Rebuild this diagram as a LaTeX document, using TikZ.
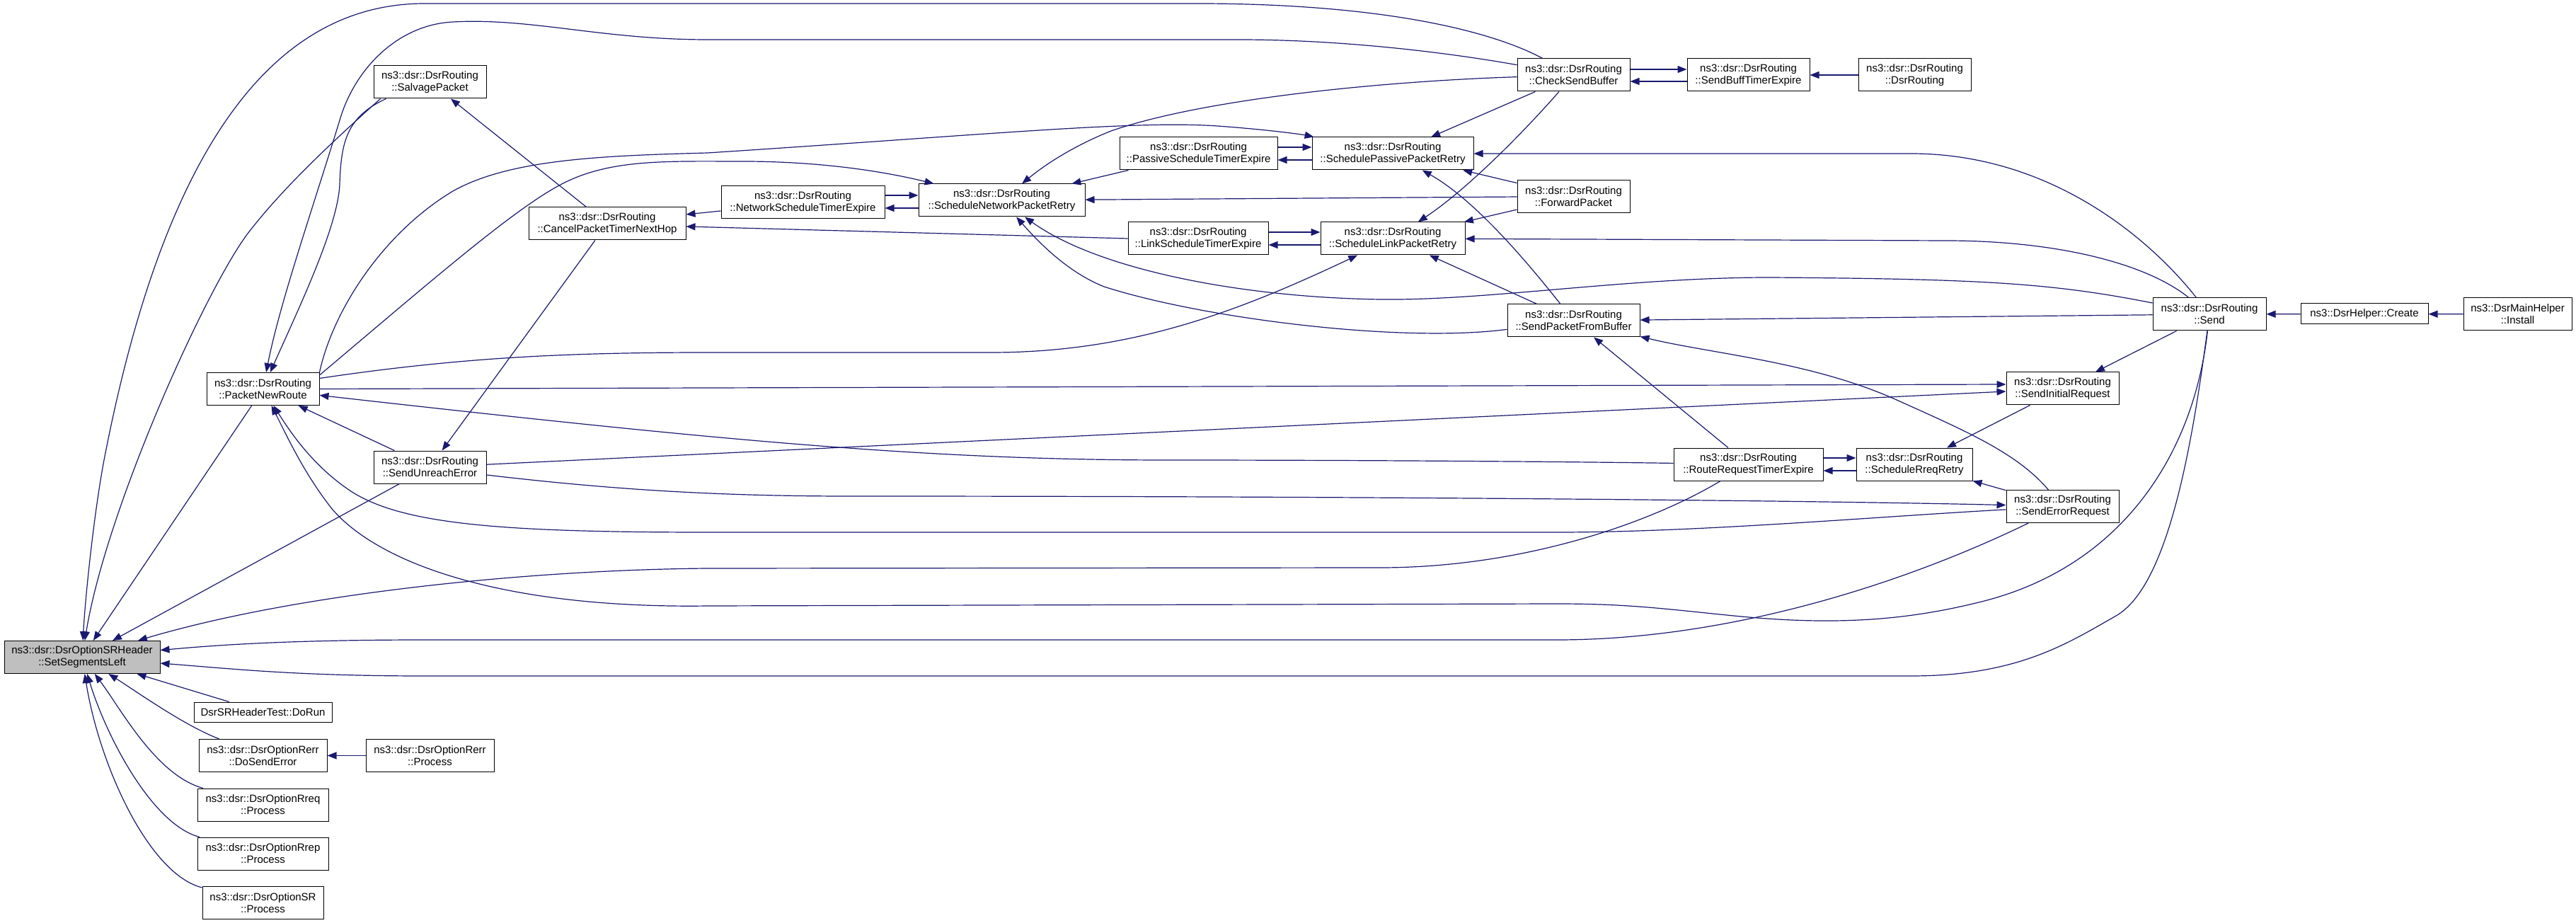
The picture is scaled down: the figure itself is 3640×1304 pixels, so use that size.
\documentclass[tikz,border=0pt]{standalone}
\usepackage{fontspec}
\setmainfont{Liberation Sans}
\usetikzlibrary{arrows.meta}
\definecolor{dxblue}{HTML}{191970}
\definecolor{dxgray}{HTML}{BFBFBF}
\newcommand{\fnfont}{\fontsize{7.5}{8.5}\selectfont}
\begin{document}
\begin{tikzpicture}[x=0.5pt, y=-0.5pt,
  fn/.style={draw=black, fill=white, line width=0.5pt, inner sep=0pt, minimum height=23pt, align=center, font=\fnfont},
  call/.style={draw=dxblue, line width=0.6pt, -{Triangle[length=6.5pt,width=5pt]}}]
\useasboundingbox (0,0) rectangle (3640,1304);
%% functions
\node[fn, fill=dxgray, minimum width=110pt] (ssl) at (116,928.5) {ns3::dsr::DsrOptionSRHeader\\::SetSegmentsLeft};
\node[fn, minimum width=79.5pt] (pnr) at (371.5,549.5) {ns3::dsr::DsrRouting\\::PacketNewRoute};
\node[fn, minimum width=79.5pt] (sp) at (607.5,116) {ns3::dsr::DsrRouting\\::SalvagePacket};
\node[fn, minimum width=111pt] (cpt) at (858,316) {ns3::dsr::DsrRouting\\::CancelPacketTimerNextHop};
\node[fn, minimum width=79.5pt] (sue) at (607.5,660) {ns3::dsr::DsrRouting\\::SendUnreachError};
\node[fn, minimum width=97.5pt, minimum height=14pt] (dorun) at (371.5,1006) {DsrSRHeaderTest::DoRun};
\node[fn, minimum width=90.5pt] (dse) at (371.5,1067.5) {ns3::dsr::DsrOptionRerr\\::DoSendError};
\node[fn, minimum width=90.5pt] (rerrp) at (607.5,1067.5) {ns3::dsr::DsrOptionRerr\\::Process};
\node[fn, minimum width=92.5pt] (rreqp) at (371.5,1137) {ns3::dsr::DsrOptionRreq\\::Process};
\node[fn, minimum width=92.5pt] (rrepp) at (371.5,1206) {ns3::dsr::DsrOptionRrep\\::Process};
\node[fn, minimum width=85.5pt] (srp) at (371.5,1275.5) {ns3::dsr::DsrOptionSR\\::Process};
\node[fn, minimum width=115.5pt] (nste) at (1134.5,286) {ns3::dsr::DsrRouting\\::NetworkScheduleTimerExpire};
\node[fn, minimum width=117.5pt] (snpr) at (1415.5,283) {ns3::dsr::DsrRouting\\::ScheduleNetworkPacketRetry};
\node[fn, minimum width=111.5pt] (pste) at (1693.5,217) {ns3::dsr::DsrRouting\\::PassiveScheduleTimerExpire};
\node[fn, minimum width=99pt] (lste) at (1693,337) {ns3::dsr::DsrRouting\\::LinkScheduleTimerExpire};
\node[fn, minimum width=114pt] (sppr) at (1968,217) {ns3::dsr::DsrRouting\\::SchedulePassivePacketRetry};
\node[fn, minimum width=102pt] (slpr) at (1968,337) {ns3::dsr::DsrRouting\\::ScheduleLinkPacketRetry};
\node[fn, minimum width=79.5pt] (csb) at (2223.5,106) {ns3::dsr::DsrRouting\\::CheckSendBuffer};
\node[fn, minimum width=79.5pt] (fp) at (2223.5,277.5) {ns3::dsr::DsrRouting\\::ForwardPacket};
\node[fn, minimum width=93.5pt] (spfb) at (2223.5,453) {ns3::dsr::DsrRouting\\::SendPacketFromBuffer};
\node[fn, minimum width=105.5pt] (rrte) at (2470.5,656) {ns3::dsr::DsrRouting\\::RouteRequestTimerExpire};
\node[fn, minimum width=86.5pt] (sbte) at (2470.5,106) {ns3::dsr::DsrRouting\\::SendBuffTimerExpire};
\node[fn, minimum width=79.5pt] (dr) at (2705.5,106) {ns3::dsr::DsrRouting\\::DsrRouting};
\node[fn, minimum width=82pt] (srr) at (2705,656) {ns3::dsr::DsrRouting\\::ScheduleRreqRetry};
\node[fn, minimum width=79.5pt] (sir) at (2914.5,549) {ns3::dsr::DsrRouting\\::SendInitialRequest};
\node[fn, minimum width=79.5pt] (ser) at (2914.5,715.5) {ns3::dsr::DsrRouting\\::SendErrorRequest};
\node[fn, minimum width=80pt] (send) at (3122,444) {ns3::dsr::DsrRouting\\::Send};
\node[fn, minimum width=90pt, minimum height=14.5pt] (create) at (3341,443.5) {ns3::DsrHelper::Create};
\node[fn, minimum width=76.5pt] (install) at (3557.5,444) {ns3::DsrMainHelper\\::Install};
%% calls into SetSegmentsLeft
\draw[call] (pnr) -- (ssl);
\draw[call] ([xshift=-35pt]sp.south) .. controls (470,200) and (400,265) .. (350,330) .. controls (290,410) and (150,720) .. (ssl);
\draw[call] (csb) .. controls (2110,45) and (1960,6) .. (1700,5) -- (600,5) .. controls (380,5) and (230,220) .. (147,650) .. controls (132,730) and (120,850) .. (ssl);
\draw[call] (sue) -- (ssl);
\draw[call] (rrte) .. controls (2330,740) and (2150,802) .. (1950,802) -- (1000,803) .. controls (750,805) and (420,838) .. (ssl);
\draw[call] (ser) .. controls (2700,820) and (2450,904) .. (2200,904) -- (600,904) .. controls (400,904) and (300,912) .. (ssl);
\draw[call] (send) .. controls (3095,650) and (3060,830) .. (2990,870) .. controls (2920,910) and (2850,955) .. (2700,955) -- (600,955) .. controls (420,955) and (330,945) .. (ssl);
\draw[call] (dorun) -- (ssl);
\draw[call] (dse) .. controls (260,1025) and (190,975) .. (ssl);
\draw[call] (rreqp) .. controls (220,1095) and (170,1000) .. (ssl);
\draw[call] (rrepp) .. controls (215,1165) and (150,1040) .. (ssl);
\draw[call] (srp) .. controls (210,1235) and (140,1080) .. (ssl);
\draw[call] (rerrp) -- (dse);
%% calls into PacketNewRoute
\draw[call] ([xshift=-31pt]sp.south) .. controls (490,165) and (482,200) .. (480,260) .. controls (478,320) and (420,440) .. (pnr);
\draw[call] (csb) .. controls (2050,75) and (1900,56) .. (1750,56) -- (1000,56) .. controls (850,56) and (750,25) .. (640,31) .. controls (560,35) and (500,100) .. (480,170) .. controls (440,300) and (395,430) .. (pnr);
\draw[call] (sue) -- (pnr);
\draw[call] (ser) .. controls (2650,730) and (2400,752) .. (2200,752) -- (1000,752) .. controls (700,752) and (560,740) .. (490,690) .. controls (440,655) and (410,610) .. (pnr);
\draw[call] (send) .. controls (3100,640) and (3000,800) .. (2800,850) .. controls (2700,875) and (2600,885) .. (2450,870) .. controls (2350,860) and (2300,853) .. (2200,853) -- (1000,856) .. controls (720,860) and (540,800) .. (470,720) .. controls (430,670) and (405,615) .. (pnr);
\draw[call] (rrte) .. controls (2200,652) and (1900,650) .. (1650,650) .. controls (1300,650) and (1000,620) .. (pnr);
%% CancelPacketTimerNextHop
\draw[call] (cpt) -- (sp);
\draw[call] (cpt) -- (sue);
\draw[call] ([yshift=-6pt]nste.west) -- ([yshift=6.5pt]cpt.east);
\draw[call] (lste.west) -- ([yshift=-2pt]cpt.east);
%% ScheduleNetworkPacketRetry
\draw[call] ([yshift=5pt]nste.east) -- ([yshift=3.5pt]snpr.west);
\draw[call] ([yshift=-5.5pt]snpr.west) -- ([yshift=-4pt]nste.east);
\draw[call] ([yshift=-2pt]pnr.north east) .. controls (600,405) and (720,300) .. (790,262) .. controls (860,224) and (940,228) .. (1050,228) .. controls (1150,228) and (1240,240) .. (snpr);
\draw[call] (csb) .. controls (1950,115) and (1700,140) .. (1570,185) .. controls (1520,205) and (1480,230) .. (snpr);
\draw[call] (pste) -- (snpr);
\draw[call] (fp) -- (snpr);
\draw[call] (spfb) .. controls (1980,485) and (1700,450) .. (1560,405) .. controls (1510,385) and (1470,345) .. (snpr);
\draw[call] (send) .. controls (2900,400) and (2800,394) .. (2500,392) .. controls (2300,392) and (2100,425) .. (1950,423) .. controls (1750,420) and (1550,380) .. (snpr);
%% SchedulePassivePacketRetry
\draw[call] ([yshift=4.5pt]pste.east) -- ([yshift=4.5pt]sppr.west);
\draw[call] ([yshift=-4.5pt]sppr.west) -- ([yshift=-4.5pt]pste.east);
\draw[call] (pnr.north east) .. controls (470,440) and (540,330) .. (640,270) .. controls (720,225) and (850,220) .. (1000,216) .. controls (1400,190) and (1600,170) .. (1720,178) .. controls (1790,183) and (1840,190) .. (sppr);
\draw[call] (csb) -- (sppr);
\draw[call] (fp) -- (sppr);
\draw[call] (spfb) .. controls (2150,360) and (2080,280) .. (sppr);
\draw[call] (send) .. controls (3040,340) and (2900,217) .. (2700,217) -- (sppr);
%% ScheduleLinkPacketRetry
\draw[call] ([yshift=4.5pt]lste.east) -- ([yshift=4.5pt]slpr.west);
\draw[call] ([yshift=-4.5pt]slpr.west) -- ([yshift=-4.5pt]lste.east);
\draw[call] (csb) .. controls (2150,190) and (2070,270) .. (slpr);
\draw[call] (fp) -- (slpr);
\draw[call] (spfb) -- (slpr);
\draw[call] ([yshift=7.5pt]pnr.east) .. controls (650,505) and (800,498) .. (1000,498) -- (1400,498) .. controls (1600,498) and (1750,440) .. (slpr);
\draw[call] (send) .. controls (3030,370) and (2900,340) .. (2750,340) -- (slpr);
%% CheckSendBuffer
\draw[call] ([yshift=4pt]csb.east) -- ([yshift=4pt]sbte.west);
\draw[call] ([yshift=-4.5pt]sbte.west) -- ([yshift=-4.5pt]csb.east);
\draw[call] (dr) -- (sbte);
%% SendPacketFromBuffer
\draw[call] (send) -- (spfb);
\draw[call] (ser) .. controls (2850,640) and (2780,610) .. (2680,565) .. controls (2560,511) and (2420,500) .. (spfb);
\draw[call] (rrte) -- (spfb);
%% route requests
\draw[call] ([yshift=4.5pt]rrte.east) -- ([yshift=4.5pt]srr.west);
\draw[call] ([yshift=-4.5pt]srr.west) -- ([yshift=-4.5pt]rrte.east);
\draw[call] (sir) -- (srr);
\draw[call] (ser) -- (srr);
\draw[call] (pnr.east) -- ([yshift=3pt]sir.west);
\draw[call] (sue) -- ([yshift=-2pt]sir.west);
\draw[call] (send) -- (sir);
\draw[call] ([yshift=-5.5pt]sue.east) .. controls (850,690) and (1000,701) .. (1200,701) .. controls (2000,701) and (2600,708) .. (ser);
%% helpers
\draw[call] (create) -- (send);
\draw[call] (install) -- (create);
\end{tikzpicture}
\end{document}
